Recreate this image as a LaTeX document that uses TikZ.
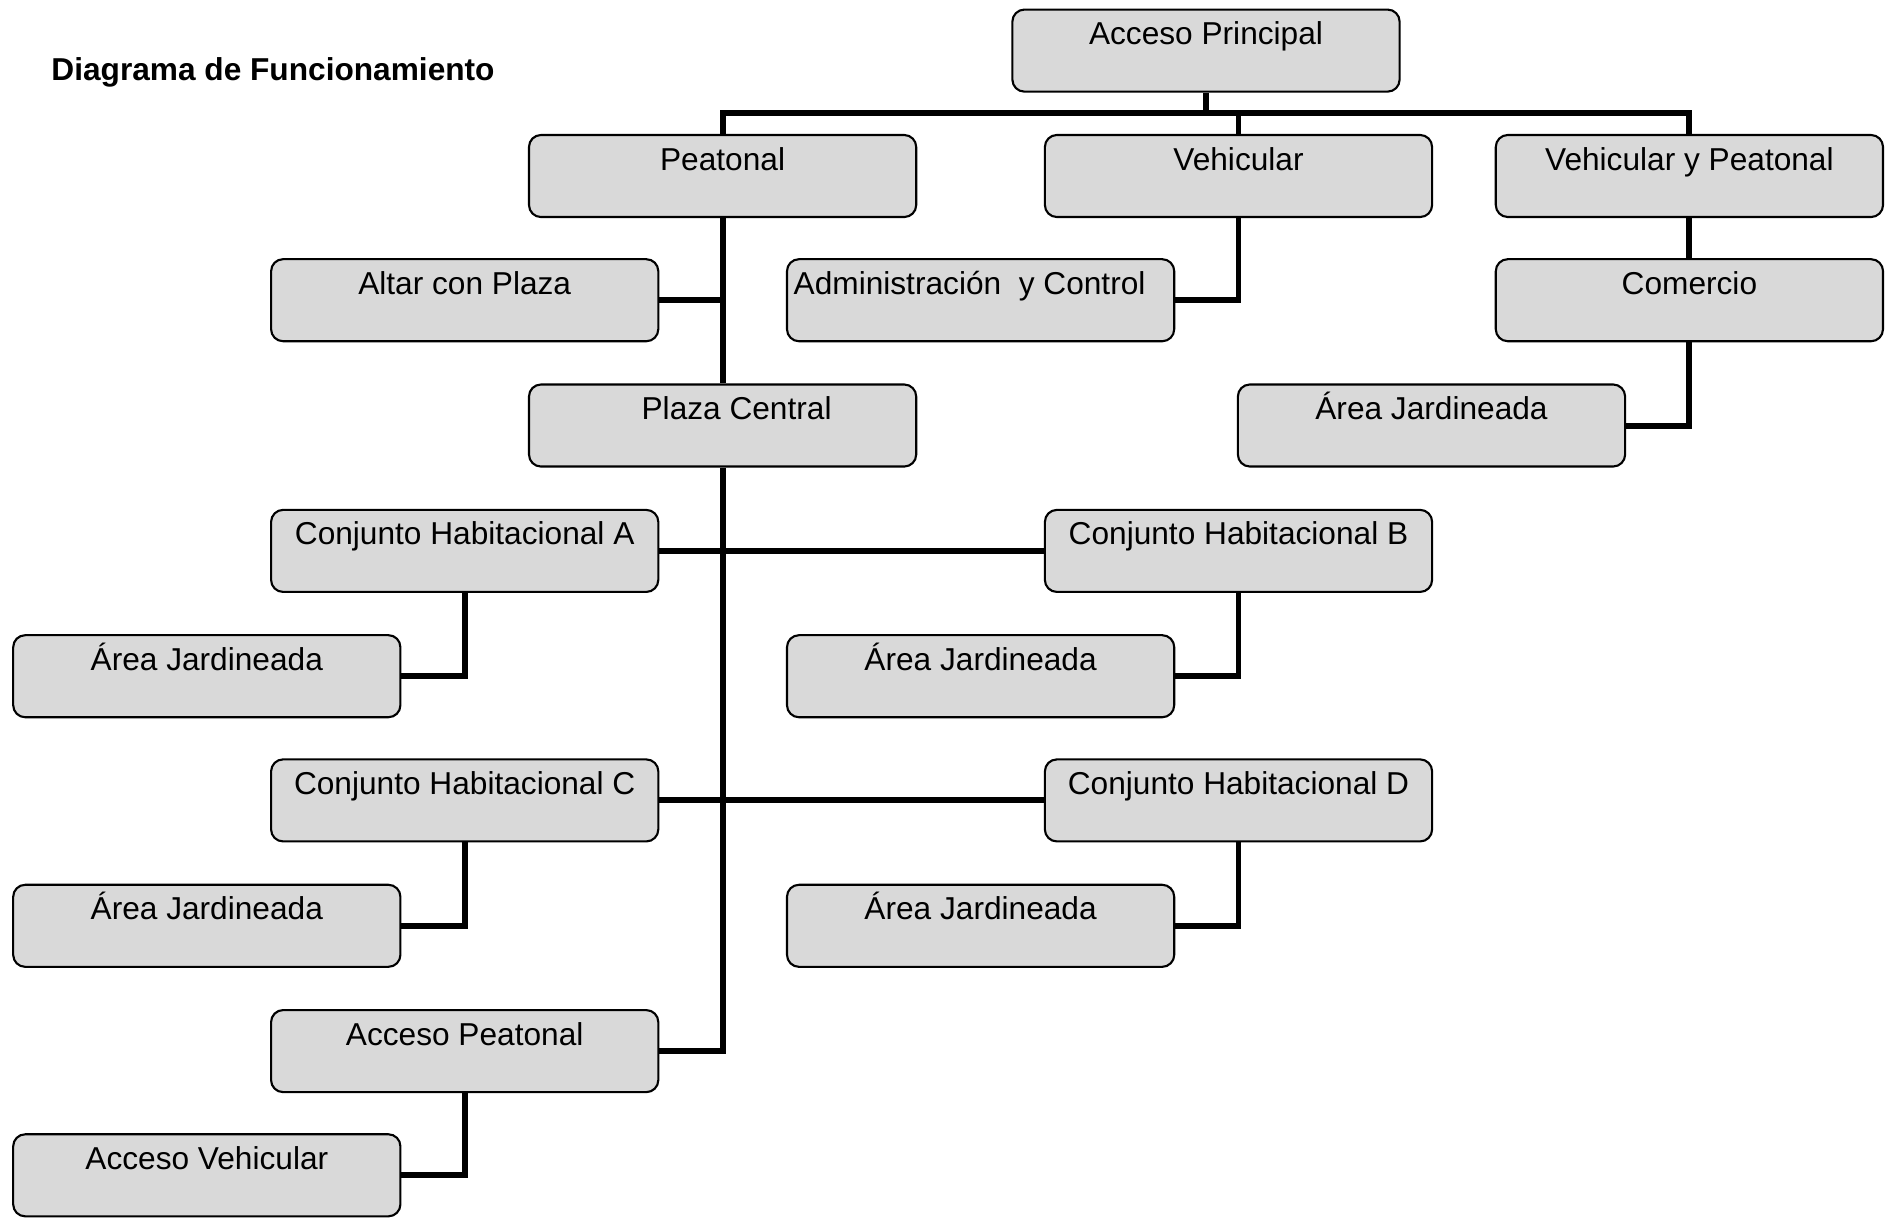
\documentclass[tikz,border=0pt]{standalone}
\usepackage{fontspec}
\setmainfont{Liberation Sans}
\usepackage{tikz}
\tikzset{
	% Cajas del diagrama
	caja/.style={draw, line width=0.6pt, fill=black!15, rounded corners=0.12cm,
		inner sep=0pt, minimum width=3.87cm, minimum height=0.82cm,
		text height=0.35cm, text depth=0.47cm,
		font=\fontsize{9pt}{11pt}\selectfont},
	% Conectores
	linea/.style={line width=1.7pt}
}

\begin{document}
\begin{tikzpicture}[x=0.01cm,y=-0.01cm]
		\useasboundingbox (0,0) rectangle (1890,1217);
		\node [anchor=base west, font=\fontsize{9pt}{11pt}\selectfont\bfseries] (titulo) at (39,80) {Diagrama de Funcionamiento};
		\node [caja] (principal) at (1206,50.6) {Acceso Principal};
		\node [caja] (peatonal) at (722.6,176) {Peatonal};
		\node [caja] (vehicular) at (1238.5,176) {Vehicular};
		\node [caja] (vyp) at (1689.4,176) {Vehicular y Peatonal};
		\node [caja] (altar) at (464.7,300.2) {Altar con Plaza};
		\node [caja] (admin) at (980.6,300.2) {Administración\ \ y Control\hspace*{0.22cm}};
		\node [caja] (comercio) at (1689.4,300.2) {Comercio};
		\node [caja] (plaza) at (722.6,425.5) {\hspace*{0.28cm}Plaza Central};
		\node [caja] (jardinCom) at (1431.5,425.5) {Área Jardineada};
		\node [caja] (conjA) at (464.7,550.9) {Conjunto Habitacional A};
		\node [caja] (conjB) at (1238.5,550.9) {Conjunto Habitacional B};
		\node [caja] (jardinA) at (206.8,676.2) {Área Jardineada};
		\node [caja] (jardinB) at (980.6,676.2) {Área Jardineada};
		\node [caja] (conjC) at (464.7,800.4) {Conjunto Habitacional C};
		\node [caja] (conjD) at (1238.5,800.4) {Conjunto Habitacional D};
		\node [caja] (jardinC) at (206.8,925.8) {Área Jardineada};
		\node [caja] (jardinD) at (980.6,925.8) {Área Jardineada};
		\node [caja] (accPeatonal) at (464.7,1051.1) {Acceso Peatonal};
		\node [caja] (accVehicular) at (206.8,1175.3) {Acceso Vehicular};
		\coordinate (bus) at (1206,113.3);
		\draw [linea] (principal.south) -- (bus);
		\draw [linea] (peatonal.north) -- (peatonal.north |- bus) -- (vyp.north |- bus) -- (vyp.north);
		\draw [linea] (vehicular.north) -- (vehicular.north |- bus);
		\draw [linea] (peatonal.south) -- (plaza.north);
		\draw [linea] (altar.east) -- (altar.east -| peatonal.south);
		\draw [linea] (vehicular.south) |- (admin.east);
		\draw [linea] (vyp.south) -- (comercio.north);
		\draw [linea] (comercio.south) |- (jardinCom.east);
		\draw [linea] (plaza.south) |- (accPeatonal.east);
		\draw [linea] (conjA.east) -- (conjB.west);
		\draw [linea] (conjC.east) -- (conjD.west);
		\draw [linea] (conjA.south) |- (jardinA.east);
		\draw [linea] (conjB.south) |- (jardinB.east);
		\draw [linea] (conjC.south) |- (jardinC.east);
		\draw [linea] (conjD.south) |- (jardinD.east);
		\draw [linea] (accPeatonal.south) |- (accVehicular.east);
	\end{tikzpicture}
\end{document}
